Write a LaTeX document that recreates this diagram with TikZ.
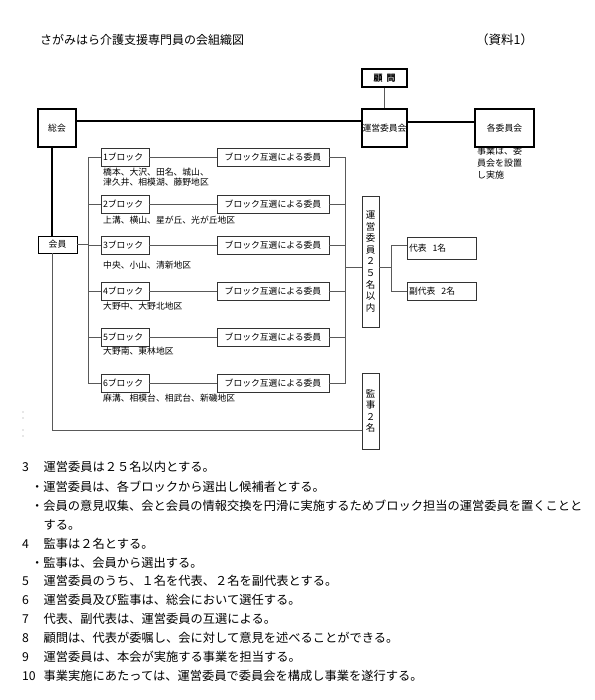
\documentclass[tikz,border=0pt]{standalone}
\usepackage{fontspec}
\setmainfont{Noto Sans CJK JP}
\begin{document}
\begin{tikzpicture}[x=1pt,y=-1pt,
  thickbox/.style={draw, line width=1.3pt, inner sep=0pt, font=\fontsize{8.8}{10}\selectfont},
  blockbox/.style={draw=black!80, line width=0.8pt, text width=44pt, inner xsep=2pt, inner ysep=0pt, minimum height=18pt, align=left, font=\fontsize{8.8}{10}\selectfont},
  combox/.style={draw=black!80, line width=0.8pt, inner sep=0pt, minimum width=112pt, minimum height=18pt, font=\fontsize{8.8}{10}\selectfont},
  repbox/.style={draw=black!80, line width=0.8pt, text width=65pt, inner xsep=2pt, inner ysep=0pt, align=left, font=\fontsize{8.8}{10}\selectfont},
  vbox/.style={draw=black!80, line width=0.8pt, inner sep=0pt, minimum width=17pt, align=center, font=\fontsize{9.5}{11.6}\selectfont},
  thickline/.style={line width=1.3pt},
  thinline/.style={draw=black!65, line width=0.8pt},
  area/.style={anchor=base west, inner sep=0pt, align=left, font=\fontsize{8.8}{10}\selectfont},
  body/.style={anchor=base west, inner sep=0pt, font=\fontsize{12.25}{14}\selectfont},
  head/.style={anchor=base west, inner sep=0pt, font=\fontsize{12}{14}\selectfont}]
\useasboundingbox (0,0) rectangle (594,700);

% title
\node[head] (title) at (40,44.5) {さがみはら介護支援専門員の会組織図};
\node[head, font=\fontsize{12.5}{14}\selectfont] (siryo) at (476,44.5) {（資料1）};

% top row
\node[thickbox, minimum width=45pt, minimum height=18pt, font=\bfseries\fontsize{9}{10}\selectfont] (komon) at (384.5,78) {顧\hspace{4pt}問};
\node[thickbox, minimum width=38pt, minimum height=38pt] (sokai) at (57,128) {総会};
\node[thickbox, minimum width=45pt, minimum height=38pt] (unei) at (384.5,128) {運営委員会};
\node[thickbox, minimum width=59pt, minimum height=38pt] (kaku) at (504.5,128) {各委員会};
% base anchor of a multi-line node is the baseline of its last line
\node[area, font=\fontsize{9}{12}\selectfont] (jigyo) at (477,178.5) {事業は、委\\員会を設置\\し実施};

\node[thickbox, line width=0.9pt, minimum width=39pt, minimum height=17pt] (kaiin) at (57.5,244.5) {会員};

% blocks
\node[blockbox] (b1) at (125,157) {1ブロック};
\node[blockbox] (b2) at (125,204.5) {2ブロック};
\node[blockbox] (b3) at (125,245.5) {3ブロック};
\node[blockbox] (b4) at (125,291) {4ブロック};
\node[blockbox] (b5) at (125,337) {5ブロック};
\node[blockbox] (b6) at (125,383.5) {6ブロック};

\node[area] (a1) at (103,185.5) {橋本、大沢、田名、城山、\\津久井、相模湖、藤野地区};
\node[area] (a2) at (103,223.5) {上溝、横山、星が丘、光が丘地区};
\node[area] (a3) at (103,268.5) {中央、小山、清新地区};
\node[area] (a4) at (103,309.5) {大野中、大野北地区};
\node[area] (a5) at (103,354.5) {大野南、東林地区};
\node[area] (a6) at (103,401.5) {麻溝、相模台、相武台、新磯地区};

\node[combox] (c1) at (273,157) {ブロック互選による委員};
\node[combox] (c2) at (273,204.5) {ブロック互選による委員};
\node[combox] (c3) at (273,245.5) {ブロック互選による委員};
\node[combox] (c4) at (273,291) {ブロック互選による委員};
\node[combox] (c5) at (273,337) {ブロック互選による委員};
\node[combox] (c6) at (273,383.5) {ブロック互選による委員};

\node[vbox, minimum height=131pt] (unei25) at (370.5,261.5) {運\\営\\委\\員\\２\\５\\名\\以\\内};
\node[vbox, minimum height=76pt] (kanji) at (370.5,411) {監\\事\\２\\名};

\node[repbox, minimum height=22pt] (daihyo) at (441.5,248) {代表\hspace{6pt}1名};
\node[repbox, minimum height=18pt] (fuku) at (441.5,291) {副代表\hspace{6pt}2名};

% trunks and junction points
\coordinate (ltrunk) at (88,0);
\coordinate (rtrunk) at (345,0);
\coordinate (rtrunk2) at (391,0);
\coordinate (u25w) at ([yshift=-5.5pt]unei25.west);
\coordinate (u25e) at ([yshift=-5.5pt]unei25.east);
\coordinate (kanjiin) at ([yshift=-19pt]kanji.west);

% thick connectors
\draw[thickline] ([yshift=7pt]sokai.east) -- ([yshift=7pt]unei.west);
\draw[thickline] ([yshift=6pt]unei.east) -- ([yshift=6pt]kaku.west);
\draw[thickline] ([xshift=-5pt]sokai.south) -- ([xshift=-5.5pt]kaiin.north);
\draw[thinline] (komon.south) -- (unei.north);

% left trunk
\draw[thinline] (kaiin.east) -- (kaiin.east -| ltrunk);
\draw[thinline] (b1.west) -| (ltrunk |- b6.west) -- (b6.west);
\foreach \i in {2,3,4,5} \draw[thinline] (b\i.west) -- (ltrunk |- b\i.west);

% block to committee
\foreach \i in {1,...,6} \draw[thinline] (b\i.east) -- (c\i.west);

% right trunk
\draw[thinline] (c1.east) -| (rtrunk |- c6.east) -- (c6.east);
\foreach \i in {2,3,4,5} \draw[thinline] (c\i.east) -- (rtrunk |- c\i.east);
\draw[thinline] (u25w) -- (rtrunk |- u25w);

% representatives
\draw[thinline] (u25e) -- (rtrunk2 |- u25e);
\draw[thinline] ([yshift=3pt]daihyo.west) -| (rtrunk2 |- fuku.west) -- (fuku.west);

% auditors
\draw[thinline] ([xshift=-5.5pt]kaiin.south) |- (kanjiin);

% stray dots at left
\foreach \yy in {412,418,430,436} \fill[black!40] (23,\yy) circle (0.6pt);

% text below
\node[body] (t1) at (22,471.5) {\makebox[21.5pt][l]{3}運営委員は２５名以内とする。};
\node[body] (t2) at (31,491) {・運営委員は、各ブロックから選出し候補者とする。};
\node[body] (t3) at (31,510) {・会員の意見収集、会と会員の情報交換を円滑に実施するためブロック担当の運営委員を置くことと};
\node[body] (t4) at (43.3,529) {する。};
\node[body] (t5) at (22,548) {\makebox[21.5pt][l]{4}監事は２名とする。};
\node[body] (t6) at (31,567) {・監事は、会員から選出する。};
\node[body] (t7) at (22,585.5) {\makebox[21.5pt][l]{5}運営委員のうち、１名を代表、２名を副代表とする。};
\node[body] (t8) at (22,604.5) {\makebox[21.5pt][l]{6}運営委員及び監事は、総会において選任する。};
\node[body] (t9) at (22,623.5) {\makebox[21.5pt][l]{7}代表、副代表は、運営委員の互選による。};
\node[body] (t10) at (22,642.5) {\makebox[21.5pt][l]{8}顧問は、代表が委嘱し、会に対して意見を述べることができる。};
\node[body] (t11) at (22,661.5) {\makebox[21.5pt][l]{9}運営委員は、本会が実施する事業を担当する。};
\node[body] (t12) at (22,680.5) {\makebox[21.5pt][l]{10}事業実施にあたっては、運営委員で委員会を構成し事業を遂行する。};
\end{tikzpicture}
\end{document}
